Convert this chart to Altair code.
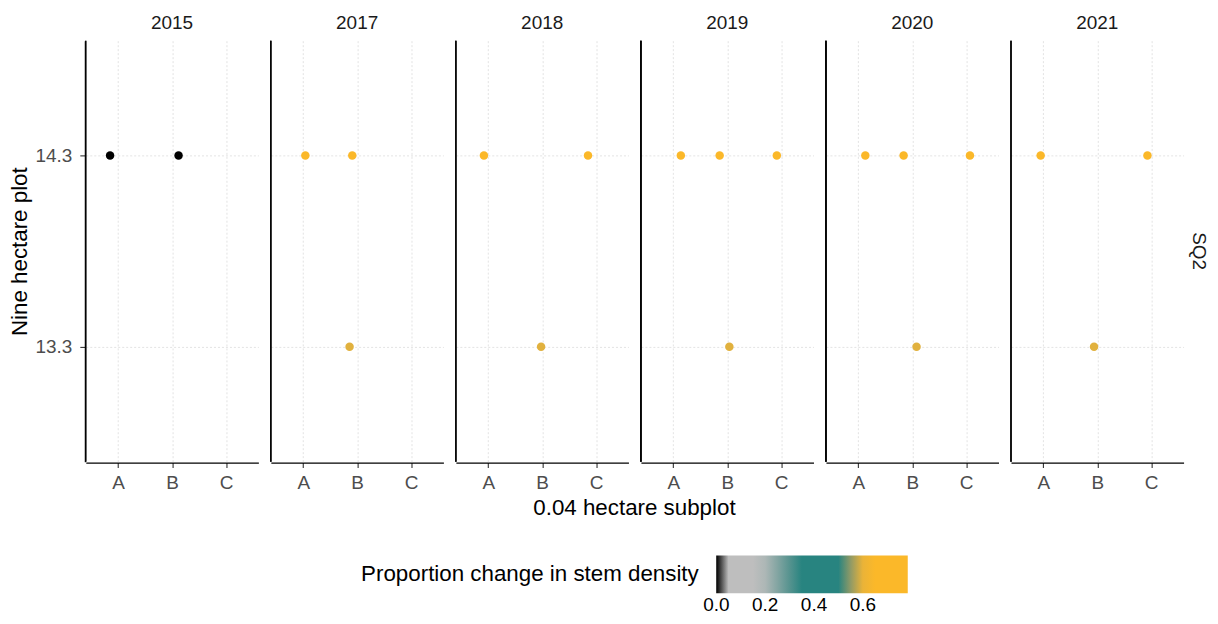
import altair as alt
import pandas as pd

# ---- data ----
years = [2015, 2015,
         2017, 2017, 2017,
         2018, 2018, 2018,
         2019, 2019, 2019, 2019,
         2020, 2020, 2020, 2020,
         2021, 2021, 2021]
plots = ["14.3", "14.3",
         "14.3", "14.3", "13.3",
         "14.3", "14.3", "13.3",
         "14.3", "14.3", "14.3", "13.3",
         "14.3", "14.3", "14.3", "13.3",
         "14.3", "14.3", "13.3"]
subplots = ["A", "B",
            "A", "B", "B",
            "A", "C", "B",
            "A", "B", "C", "B",
            "A", "B", "C", "B",
            "A", "C", "B"]
jitter = [-0.15, 0.12,
          0.04, -0.09, -0.14,
          -0.08, -0.15, -0.02,
          0.14, -0.14, -0.08, 0.04,
          0.13, -0.16, 0.07, 0.08,
          -0.05, -0.07, -0.06]
change = [0.0, 0.0,
          0.70, 0.70, 0.595,
          0.70, 0.70, 0.595,
          0.70, 0.70, 0.70, 0.595,
          0.70, 0.70, 0.70, 0.595,
          0.70, 0.70, 0.595]
site = ["SQ2"] * len(years)

subplot_levels = ["A", "B", "C"]
plot_levels = ["14.3", "13.3"]

color_stops = [-0.0005, 0.025, 0.026, 0.18, 0.34, 0.51, 0.61, 0.784]
color_values = ["#000000", "#000000", "#BEBEBE", "#BEBEBE",
                "#288480", "#288480", "#FBB829", "#FBB829"]
legend_ticks = [0.0, 0.2, 0.4, 0.6]

df = pd.DataFrame({
    "year": years, "plot": plots, "subplot": subplots,
    "jitter": jitter, "change": change, "site": site,
})
df["x_pos"] = df["subplot"].map({s: i for i, s in enumerate(subplot_levels)}) + df["jitter"]

FONT = "Liberation Sans"
W, H = 173, 422
LAB = 19
TIT = 22.4

points = alt.Chart().mark_circle(size=72, opacity=1).encode(
    x=alt.X("x_pos:Q",
            scale=alt.Scale(domain=[-0.6, 2.6], nice=False, zero=False),
            axis=alt.Axis(values=[0, 1, 2], title=None, grid=True,
                          labelExpr="datum.value == 0 ? 'A' : datum.value == 1 ? 'B' : 'C'",
                          labelPadding=6)),
    y=alt.Y("plot:O", sort=plot_levels,
            scale=alt.Scale(type="point", padding=0.6),
            axis=alt.Axis(title="Nine hectare plot", grid=True, labelPadding=8,
                          titlePadding=3)),
    color=alt.Color("change:Q",
                    scale=alt.Scale(domain=color_stops, range=color_values,
                                    interpolate="lab"),
                    legend=alt.Legend(
                        title="Proportion change in stem density",
                        orient="none", direction="horizontal",
                        legendX=276, legendY=516,
                        titleOrient="left", titleAnchor="middle", titleBaseline="middle",
                        titlePadding=17, padding=0, titleLimit=600,
                        gradientLength=192, gradientThickness=38,
                        gradientStrokeWidth=0,
                        values=legend_ticks, format=".1f", labelAlign="center",
                        labelFontSize=LAB, titleFontSize=TIT, labelColor="#000000",
                        titleColor="#000000", labelFont=FONT, titleFont=FONT,
                        titleFontWeight="normal", labelOffset=3)),
)

rule = alt.Chart().mark_rule(color="black", strokeWidth=1.1).encode(
    x=alt.value(0), y=alt.value(0), y2=alt.value(H)
)

chart = alt.layer(points, rule, data=df).properties(width=W, height=H).facet(
    column=alt.Column("year:O", header=alt.Header(
        title="0.04 hectare subplot", titleOrient="bottom", labelOrient="top",
        labelFontSize=LAB, labelColor="#1A1A1A", labelFont=FONT, labelPadding=7,
        titleFontSize=TIT, titleColor="#000000", titleFont=FONT,
        titleFontWeight="normal", titlePadding=-5)),
    row=alt.Row("site:N", title=None, header=alt.Header(
        labelOrient="right", labelAngle=90, labelFontSize=LAB, labelColor="#1A1A1A",
        labelFont=FONT, labelPadding=5)),
    spacing={"column": 11.5, "row": 0},
).properties(
    padding={"left": 1, "top": 5, "right": 2, "bottom": 0}
).configure(background="white").configure_view(stroke=None).configure_axis(
    domainColor="#000000", domainWidth=1.1,
    tickColor="#333333", tickSize=5, tickWidth=1.1,
    labelColor="#4D4D4D", labelFontSize=LAB, labelFont=FONT,
    titleColor="#000000", titleFontSize=TIT, titleFont=FONT, titleFontWeight="normal",
    gridColor="#DCDCDC", gridDash=[2, 2], gridWidth=0.8,
)

chart.save("out.html", embed_options={"renderer": "svg", "actions": False})
